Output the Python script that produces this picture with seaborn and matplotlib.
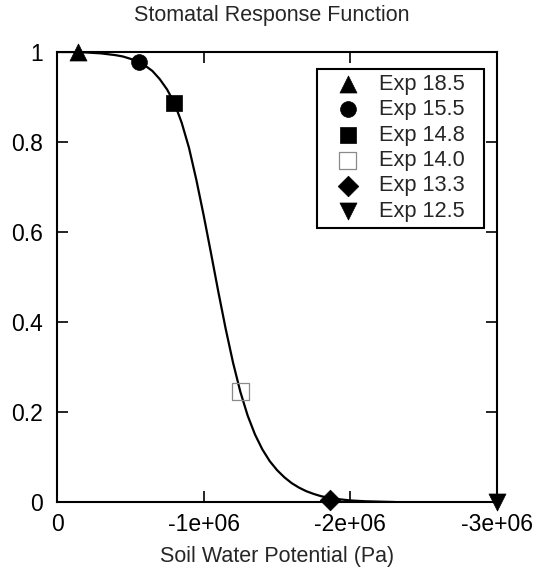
import numpy as np
import pandas as pd
import matplotlib
matplotlib.use('Agg')
import matplotlib.pyplot as plt
from matplotlib.patches import Rectangle
import seaborn as sns

# fitted response curve (Pa, relative conductance)
curve_x = [0, -1.0e5, -2.0e5, -3.0e5, -4.0e5, -4.5e5, -5.0e5, -5.5e5, -6.0e5, -6.5e5,
           -7.0e5, -7.5e5, -8.0e5, -8.5e5, -9.0e5, -9.5e5, -1.0e6, -1.05e6, -1.1e6,
           -1.15e6, -1.2e6, -1.25e6, -1.3e6, -1.35e6, -1.4e6, -1.45e6, -1.5e6, -1.55e6,
           -1.6e6, -1.65e6, -1.7e6, -1.75e6, -1.8e6, -1.85e6, -1.9e6, -2.0e6, -2.1e6,
           -2.2e6, -2.3e6]
curve_y = [1.0, 1.0, 0.999, 0.997, 0.993, 0.990, 0.985, 0.979, 0.970, 0.958,
           0.940, 0.917, 0.887, 0.843, 0.787, 0.716, 0.637, 0.553, 0.467,
           0.385, 0.310, 0.245, 0.192, 0.150, 0.117, 0.091, 0.071, 0.055,
           0.042, 0.032, 0.024, 0.018, 0.013, 0.0095, 0.007, 0.0035, 0.0017,
           0.0008, 0.0]

# experiment points
exp_labels = ['Exp 18.5', 'Exp 15.5', 'Exp 14.8', 'Exp 14.0', 'Exp 13.3', 'Exp 12.5']
exp_x = [-1.45e5, -5.6e5, -8.0e5, -1.25e6, -1.86e6, -3.0e6]
exp_y = [1.0, 0.978, 0.887, 0.245, 0.005, 0.0]
markers = ['^', 'o', 's', 's', 'D', 'v']
faces = ['black', 'black', 'black', 'none', 'black', 'black']
edges = ['black', 'black', 'black', '#8a8a8a', 'black', 'black']
sizes = [150, 130, 130, 150, 110, 150]

xticks = [0, -1e6, -2e6, -3e6]
xticklabels = ['0', '-1e+06', '-2e+06', '-3e+06']
yticks = [0, 0.2, 0.4, 0.6, 0.8, 1.0]
yticklabels = ['0', '0.2', '0.4', '0.6', '0.8', '1']

sns.set_theme(style='ticks')
plt.rcParams['font.family'] = ['Liberation Sans', 'DejaVu Sans']
plt.rcParams['axes.linewidth'] = 1.5

fig = plt.figure(figsize=(5.44, 5.71), dpi=100)
ax = fig.add_axes([0.1048, 0.1208, 0.8088, 0.7881])

cdf = pd.DataFrame({'psi': curve_x, 'g': curve_y})
sns.lineplot(data=cdf, x='psi', y='g', color='black', lw=1.6, ax=ax, sort=False, legend=False)

for lab, x, y, m, fc, ec, s in zip(exp_labels, exp_x, exp_y, markers, faces, edges, sizes):
    lw = 0.9 if fc == 'none' else 0.5
    sns.scatterplot(x=[x], y=[y], marker=m, s=s, facecolor=fc, edgecolor=ec, linewidth=lw,
                    label=lab, ax=ax, clip_on=False, zorder=5)

ax.set_xlim(0, -3e6)
ax.set_ylim(0, 1)
ax.set_xticks(xticks)
ax.set_xticklabels(xticklabels)
ax.set_yticks(yticks)
ax.set_yticklabels(yticklabels)
ax.tick_params(direction='in', top=True, right=True, length=8, width=1.2,
               labelsize=16.5, colors='black')
ax.tick_params(axis='y', pad=10)
ax.tick_params(axis='x', pad=8)
for sp in ax.spines.values():
    sp.set_color('black')
ax.set_xlabel('Soil Water Potential (Pa)', fontsize=15.5, labelpad=7)
ax.set_ylabel('')
fig.text(0.5, 0.973, 'Stomatal Response Function', ha='center', va='center', fontsize=15.5)

# legend entries without frame, box drawn separately (gnuplot-style wide key box)
leg = ax.legend(loc='upper left', bbox_to_anchor=(0.591, 0.966), borderaxespad=0,
                fontsize=15.7, frameon=False, labelspacing=0.2, handletextpad=0.34,
                borderpad=0.3, handlelength=2.2, markerscale=1.0)
ax.add_patch(Rectangle((0.591, 0.609), 0.3795, 0.353, transform=ax.transAxes,
                       fill=False, edgecolor='black', lw=1.5, zorder=6))

fig.savefig('out.png', dpi=100)
